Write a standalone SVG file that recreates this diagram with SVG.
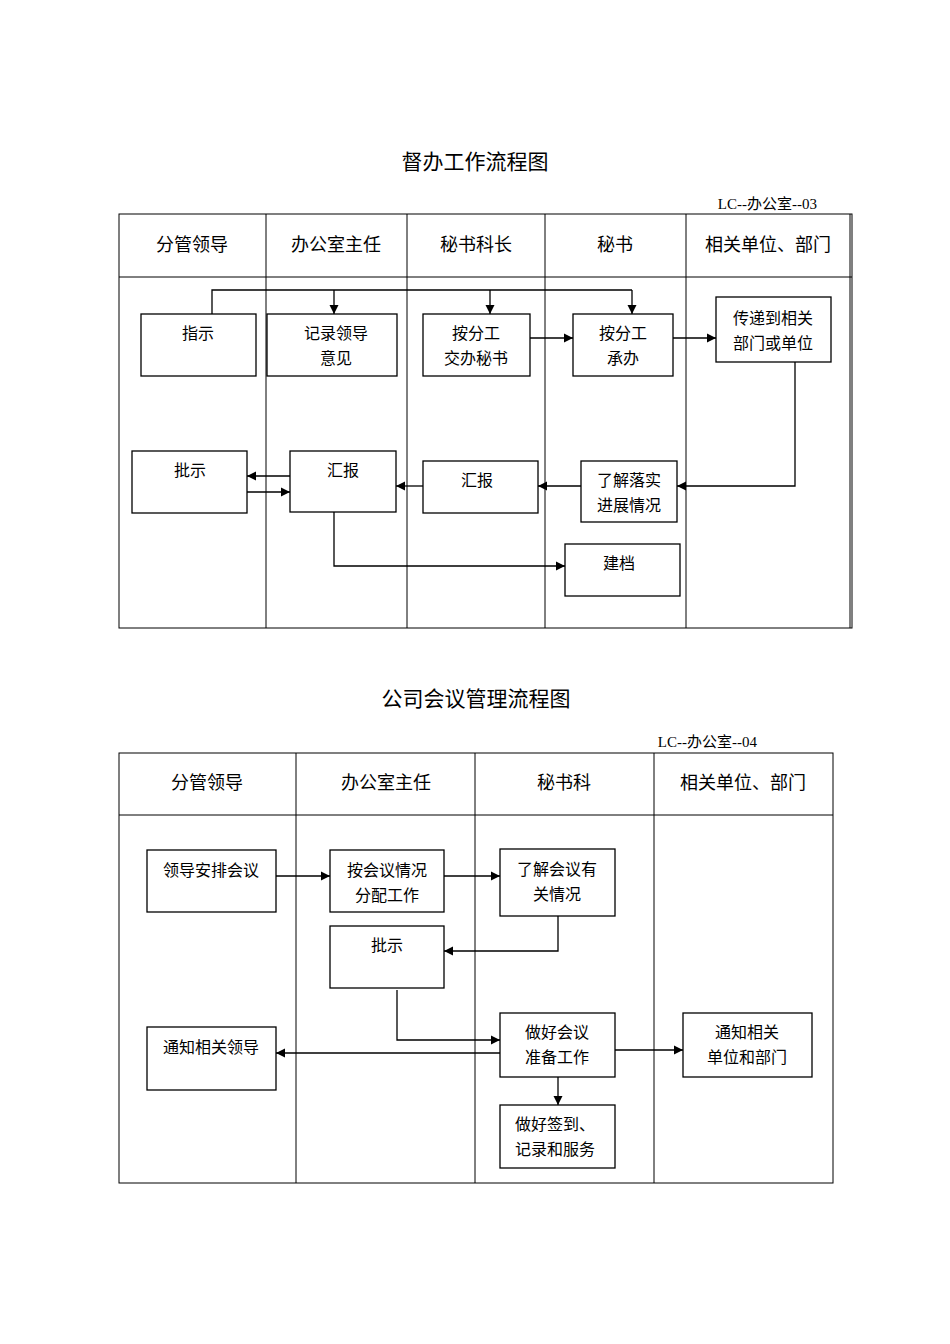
<svg xmlns="http://www.w3.org/2000/svg" width="950" height="1344" viewBox="0 0 950 1344">
<style>
text{font-family:"Liberation Serif","Noto Sans CJK SC",serif;fill:#000;text-anchor:middle}
.t{font-size:21px}.c{font-size:15px;text-anchor:end}.h{font-size:18px}.n{font-size:16px}
.g line,.g rect{stroke:#000;stroke-width:1;fill:none}
rect.b{fill:#fff;stroke:#000;stroke-width:1.3}
.k path{fill:none;stroke:#000;stroke-width:1.3}
</style>
<defs><marker id="a" viewBox="0 0 10 10" refX="10" refY="5" markerWidth="7" markerHeight="7" orient="auto"><path d="M0,0L10,5L0,10z" fill="#000"/></marker></defs>
<text class="t" x="475" y="169">督办工作流程图</text>
<text class="c" x="817" y="209">LC--办公室--03</text>
<g class="g" id="table1">
<rect x="119" y="214" width="733" height="414"/>
<line x1="119" y1="277" x2="852" y2="277"/>
<line x1="266" y1="214" x2="266" y2="628"/><line x1="407" y1="214" x2="407" y2="628"/>
<line x1="545" y1="214" x2="545" y2="628"/><line x1="686" y1="214" x2="686" y2="628"/>
<line x1="850" y1="214" x2="850" y2="628"/>
</g>
<g class="h"><text class="h" x="192" y="251">分管领导</text><text class="h" x="336" y="251">办公室主任</text><text class="h" x="476" y="251">秘书科长</text><text class="h" x="615" y="251">秘书</text><text class="h" x="768" y="251">相关单位、部门</text></g>
<g id="n1"><rect class="b" x="141" y="314" width="115" height="62"/><text class="n" x="198" y="339">指示</text></g>
<g id="n2"><rect class="b" x="267" y="314" width="130" height="62"/><text class="n" x="336" y="339">记录领导</text><text class="n" x="336" y="364">意见</text></g>
<g id="n3"><rect class="b" x="423" y="314" width="107" height="62"/><text class="n" x="476" y="339">按分工</text><text class="n" x="476" y="364">交办秘书</text></g>
<g id="n4"><rect class="b" x="573" y="314" width="100" height="62"/><text class="n" x="623" y="339">按分工</text><text class="n" x="623" y="364">承办</text></g>
<g id="n5"><rect class="b" x="716" y="297" width="115" height="65"/><text class="n" x="773" y="324">传递到相关</text><text class="n" x="773" y="349">部门或单位</text></g>
<g id="n6"><rect class="b" x="132" y="451" width="115" height="62"/><text class="n" x="190" y="476">批示</text></g>
<g id="n7"><rect class="b" x="290" y="451" width="106" height="61"/><text class="n" x="343" y="476">汇报</text></g>
<g id="n8"><rect class="b" x="423" y="461" width="115" height="52"/><text class="n" x="477" y="486">汇报</text></g>
<g id="n9"><rect class="b" x="581" y="461" width="96" height="61"/><text class="n" x="629" y="486">了解落实</text><text class="n" x="629" y="511">进展情况</text></g>
<g id="n10"><rect class="b" x="565" y="544" width="115" height="52"/><text class="n" x="619" y="569">建档</text></g>
<g class="k" id="connectors1">
<path d="M212,314V290H632"/>
<path d="M334,290V314" marker-end="url(#a)"/><path d="M490,290V314" marker-end="url(#a)"/><path d="M632,290V314" marker-end="url(#a)"/>
<path d="M530,338H573" marker-end="url(#a)"/><path d="M673,338H716" marker-end="url(#a)"/>
<path d="M795,362V486H677" marker-end="url(#a)"/>
<path d="M581,486H538" marker-end="url(#a)"/><path d="M423,486H396" marker-end="url(#a)"/>
<path d="M290,476H247" marker-end="url(#a)"/><path d="M247,492H290" marker-end="url(#a)"/>
<path d="M334,512V566H565" marker-end="url(#a)"/>
</g>
<text class="t" x="476" y="706">公司会议管理流程图</text>
<text class="c" x="757" y="747">LC--办公室--04</text>
<g class="g" id="table2">
<rect x="119" y="753" width="714" height="430"/>
<line x1="119" y1="815" x2="833" y2="815"/>
<line x1="296" y1="753" x2="296" y2="1183"/><line x1="475" y1="753" x2="475" y2="1183"/><line x1="654" y1="753" x2="654" y2="1183"/>
</g>
<text class="h" x="207" y="789">分管领导</text><text class="h" x="386" y="789">办公室主任</text><text class="h" x="564" y="789">秘书科</text><text class="h" x="743" y="789">相关单位、部门</text>
<g id="m1"><rect class="b" x="147" y="850" width="129" height="62"/><text class="n" x="211" y="876">领导安排会议</text></g>
<g id="m2"><rect class="b" x="330" y="850" width="114" height="62"/><text class="n" x="387" y="876">按会议情况</text><text class="n" x="387" y="901">分配工作</text></g>
<g id="m3"><rect class="b" x="500" y="849" width="115" height="67"/><text class="n" x="557" y="875">了解会议有</text><text class="n" x="557" y="900">关情况</text></g>
<g id="m4"><rect class="b" x="330" y="926" width="114" height="62"/><text class="n" x="387" y="951">批示</text></g>
<g id="m5"><rect class="b" x="147" y="1027" width="129" height="63"/><text class="n" x="211" y="1053">通知相关领导</text></g>
<g id="m6"><rect class="b" x="500" y="1013" width="115" height="64"/><text class="n" x="557" y="1038">做好会议</text><text class="n" x="557" y="1063">准备工作</text></g>
<g id="m7"><rect class="b" x="683" y="1013" width="129" height="64"/><text class="n" x="747" y="1038">通知相关</text><text class="n" x="747" y="1063">单位和部门</text></g>
<g id="m8"><rect class="b" x="500" y="1105" width="115" height="63"/><text class="n" x="555" y="1130">做好签到、</text><text class="n" x="555" y="1155">记录和服务</text></g>
<g class="k" id="connectors2">
<path d="M276,876H330" marker-end="url(#a)"/><path d="M444,876H500" marker-end="url(#a)"/>
<path d="M558,916V951H444" marker-end="url(#a)"/>
<path d="M397,990V1040H500" marker-end="url(#a)"/>
<path d="M500,1053H276" marker-end="url(#a)"/>
<path d="M615,1050H683" marker-end="url(#a)"/>
<path d="M558,1077V1105" marker-end="url(#a)"/>
</g>
</svg>
